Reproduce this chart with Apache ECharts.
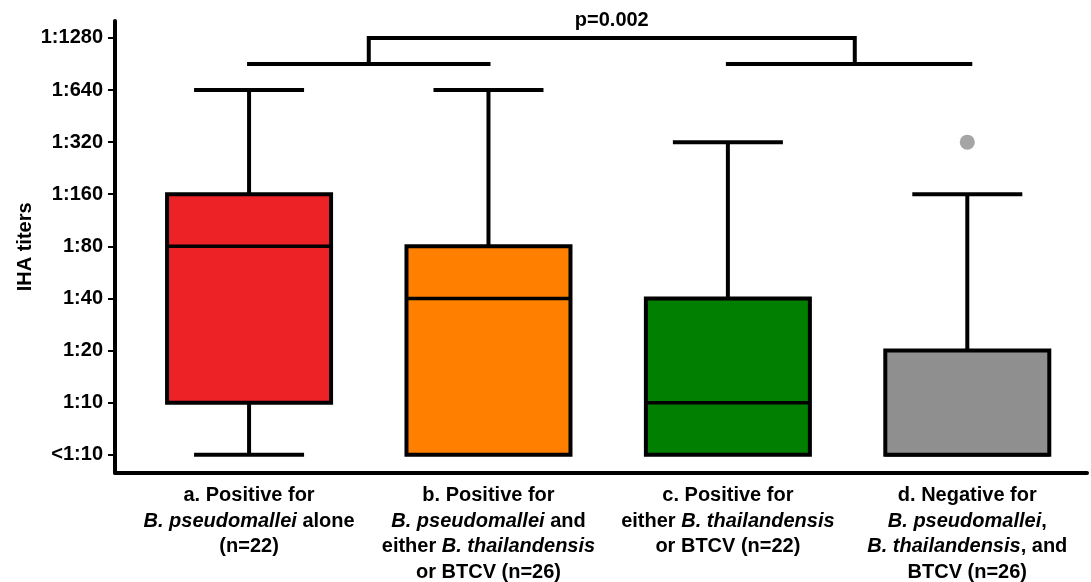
<!DOCTYPE html>
<html><head><meta charset="utf-8">
<script src="https://cdn.jsdelivr.net/npm/echarts@6/dist/echarts.min.js"></script>
<style>html,body{margin:0;padding:0;background:#fff}#c{width:1091px;height:582px}</style>
</head><body><div id="c"></div>
<script>
// Category labels (rich text: {b|bold}, {i|bold italic})
const categories = [
  '{b|a. Positive for}\n{i|B. pseudomallei}{b| alone}\n{b|(n=22)}',
  '{b|b. Positive for}\n{i|B. pseudomallei}{b| and}\n{b|either }{i|B. thailandensis}\n{b|or BTCV (n=26)}',
  '{b|c. Positive for}\n{b|either }{i|B. thailandensis}\n{b|or BTCV (n=22)}',
  '{b|d. Negative for}\n{i|B. pseudomallei}{b|,}\n{i|B. thailandensis}{b|, and}\n{b|BTCV (n=26)}'
];
// Ordinal titer levels (index 0..8)
const titerLabels = ['<1:10','1:10','1:20','1:40','1:80','1:160','1:320','1:640','1:1280'];
// Box stats per group as titer level index: [min, q1, median, q3, max]
const groupA = [0, 1, 4, 5, 7];
const groupB = [0, 0, 3, 4, 7];
const groupC = [0, 0, 1, 3, 6];
const groupD = [0, 0, 0, 2, 5];
// Outliers: [group index, titer level]
const outliers = [[3, 6]];
const boxColors = ['#EC2227', '#FF8000', '#007F00', '#8F8F8F'];
// Significance bracket: pairs of groups joined, bar level, top level, top-bar ends
const bracketLeft = [0, 1];
const bracketRight = [2, 3];
const bracketLow = 7.5;
const bracketHigh = 8;
const bracketTopEnds = [0.5, 2.53];
const pText = 'p=0.002';

const FONT = '"Liberation Sans", Arial, sans-serif';
const groups = [groupA, groupB, groupC, groupD];
const boxData = groups.map((g, i) => [i].concat(g));
const levelIdx = titerLabels.map((_, i) => i);

const chart = echarts.init(document.getElementById('c'));
chart.setOption({
  animation: false,
  backgroundColor: '#fff',
  grid: { left: 115, right: 4, top: 21, bottom: 108, containLabel: false },
  xAxis: {
    type: 'value', min: -0.56, max: 3.5,
    splitLine: { show: false },
    axisLine: { show: true, onZero: false, lineStyle: { color: '#000', width: 4 } },
    axisTick: { show: false },
    axisLabel: {
      customValues: [0, 1, 2, 3],
      formatter: v => categories[Math.round(v)],
      margin: 10,
      color: '#000',
      align: 'center',
      rich: {
        b: { fontFamily: FONT, fontWeight: 'bold', fontSize: 20, lineHeight: 25.5, color: '#000' },
        i: { fontFamily: FONT, fontWeight: 'bold', fontStyle: 'italic', fontSize: 20, lineHeight: 25.5, color: '#000' }
      }
    }
  },
  yAxis: {
    type: 'value', min: -0.345, max: 8.325,
    splitLine: { show: false },
    axisLine: { show: true, onZero: false, lineStyle: { color: '#000', width: 4 } },
    axisTick: { show: true, customValues: levelIdx, length: 7, lineStyle: { color: '#000', width: 2 } },
    axisLabel: {
      customValues: levelIdx,
      formatter: v => titerLabels[Math.round(v)],
      margin: 12, color: '#000', fontFamily: FONT, fontWeight: 'bold', fontSize: 20
    },
    name: 'IHA titers', nameLocation: 'middle', nameGap: 80, nameMoveOverlap: false,
    nameTextStyle: { fontFamily: FONT, fontWeight: 'bold', fontSize: 20, color: '#000' }
  },
  series: [
    {
      type: 'custom',
      clip: false,
      data: boxData,
      encode: { x: 0, y: [1, 2, 3, 4, 5] },
      renderItem: function (params, api) {
        const x = api.value(0);
        const lo = api.coord([x, api.value(1)]);
        const q1 = api.coord([x, api.value(2)]);
        const md = api.coord([x, api.value(3)]);
        const q3 = api.coord([x, api.value(4)]);
        const hi = api.coord([x, api.value(5)]);
        const cx = lo[0];
        const hw = 82, cw = 55;
        const ls = { stroke: '#000', lineWidth: 4 };
        const ch = [];
        if (hi[1] < q3[1] - 0.5) {
          ch.push({ type: 'line', shape: { x1: cx, y1: q3[1], x2: cx, y2: hi[1] }, style: ls });
          ch.push({ type: 'line', shape: { x1: cx - cw, y1: hi[1], x2: cx + cw, y2: hi[1] }, style: ls });
        }
        if (lo[1] > q1[1] + 0.5) {
          ch.push({ type: 'line', shape: { x1: cx, y1: q1[1], x2: cx, y2: lo[1] }, style: ls });
          ch.push({ type: 'line', shape: { x1: cx - cw, y1: lo[1], x2: cx + cw, y2: lo[1] }, style: ls });
        }
        ch.push({ type: 'rect', shape: { x: cx - hw, y: q3[1], width: 2 * hw, height: q1[1] - q3[1] },
          style: { fill: boxColors[params.dataIndex], stroke: '#000', lineWidth: 4 } });
        ch.push({ type: 'line', shape: { x1: cx - hw, y1: md[1], x2: cx + hw, y2: md[1] }, style: { stroke: '#000', lineWidth: 3.5 } });
        return { type: 'group', children: ch };
      }
    },
    {
      type: 'scatter',
      data: outliers,
      symbol: 'circle',
      symbolSize: 15,
      itemStyle: { color: '#8F8F8F' },
      z: 3
    },
    {
      type: 'custom',
      clip: false,
      data: [[bracketLeft[0], bracketLeft[1], bracketRight[0], bracketRight[1], bracketLow, bracketHigh, bracketTopEnds[0], bracketTopEnds[1]]],
      renderItem: function (params, api) {
        const l0 = api.coord([api.value(0), api.value(4)]);
        const l1 = api.coord([api.value(1), api.value(4)]);
        const r0 = api.coord([api.value(2), api.value(4)]);
        const r1 = api.coord([api.value(3), api.value(4)]);
        const lm = api.coord([api.value(6), api.value(5)]);
        const rm = api.coord([api.value(7), api.value(5)]);
        const ls = { stroke: '#000', lineWidth: 4 };
        return {
          type: 'group',
          children: [
            { type: 'line', shape: { x1: l0[0] - 2, y1: l0[1], x2: l1[0] + 2, y2: l1[1] }, style: ls },
            { type: 'line', shape: { x1: r0[0] - 2, y1: r0[1], x2: r1[0] + 5, y2: r1[1] }, style: ls },
            { type: 'polyline', shape: { points: [[lm[0], l0[1]], [lm[0], lm[1]], [rm[0], rm[1]], [rm[0], r0[1]]] }, style: { stroke: '#000', lineWidth: 4, fill: null } },
            { type: 'text', x: (lm[0] + rm[0]) / 2, y: lm[1] - 17,
              style: { text: pText, fill: '#000', font: 'bold 20px ' + FONT, align: 'center', verticalAlign: 'middle' } }
          ]
        };
      }
    }
  ]
});
</script>
</body></html>
